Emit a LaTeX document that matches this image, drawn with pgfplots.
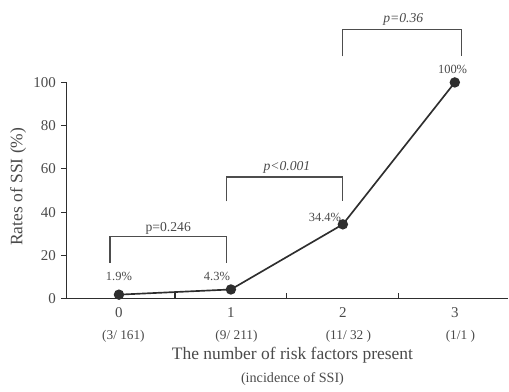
\documentclass[border=0pt]{standalone}
\usepackage{pgfplots}
\pgfplotsset{compat=1.18}
\usepackage{fontspec}
\setmainfont{Liberation Serif}
\definecolor{txt}{HTML}{4A4A4A}
\definecolor{ln}{HTML}{2E2E2E}
\begin{document}
\begin{tikzpicture}
\begin{axis}[
  scale only axis,
  width=265.4pt, height=130pt,
  xmin=-0.467, xmax=3.478,
  ymin=0, ymax=100,
  clip=false,
  axis x line*=bottom, axis y line*=left,
  axis line style={color=ln, line width=0.8pt},
  tick align=inside,
  major tick length=3.5pt,
  xtick={0.5,1.5,2.5},
  xticklabels={},
  xtick style={draw=ln, line width=0.7pt},
  extra x ticks={0,1,2,3},
  extra x tick labels={0,1,2,3},
  extra x tick style={major tick length=0pt, xticklabel style={yshift=-2pt}},
  ytick={0,20,40,60,80,100},
  ytick style={draw=ln, line width=0.6pt, xshift=-3.5pt},
  tick label style={font=\fontsize{9}{10}\selectfont, color=txt},
  yticklabel style={xshift=-3pt},
  /pgf/number format/assume math mode=true,
]
% invisible bounding box matching the reference frame
\path (axis cs:-1.0625,-41.4) rectangle (axis cs:3.482,138.1);
% brackets
\addplot[color=ln!85, line width=0.7pt, no marks] coordinates {(-0.08,16.6) (-0.08,28.6) (0.96,28.6) (0.96,16.6)};
\addplot[color=ln!85, line width=0.7pt, no marks] coordinates {(0.96,45) (0.96,56.3) (1.995,56.3) (1.995,45)};
\addplot[color=ln!85, line width=0.7pt, no marks] coordinates {(2.0,112) (2.0,124.6) (3.06,124.6) (3.06,112)};
% data
\addplot[color=ln, line width=1pt, mark=*, mark size=2.6pt, mark options={fill=ln}] coordinates {(0,1.9) (1,4.3) (2,34.4) (3,100)};
% labels
\node[color=txt, font=\fontsize{7.5}{8}\selectfont] at (axis cs:0,10.3) {1.9\%};
\node[color=txt, font=\fontsize{7.5}{8}\selectfont] at (axis cs:0.875,10.3) {4.3\%};
\node[color=txt, font=\fontsize{7.5}{8}\selectfont] at (axis cs:1.84,37.5) {34.4\%};
\node[color=txt, font=\fontsize{7.5}{8}\selectfont] at (axis cs:2.98,105.8) {100\%};
\node[color=txt, font=\fontsize{8.2}{9}\selectfont] at (axis cs:0.44,32.4) {p=0.246};
\node[color=txt, font=\fontsize{8.2}{9}\selectfont\itshape] at (axis cs:1.5,60.7) {p<0.001};
\node[color=txt, font=\fontsize{8.2}{9}\selectfont\itshape] at (axis cs:2.54,128.9) {p=0.36};
% fractions under ticks
\node[color=txt, font=\fontsize{8}{9}\selectfont] at (axis cs:0.04,-17.4) {(3/ 161)};
\node[color=txt, font=\fontsize{8}{9}\selectfont] at (axis cs:1.05,-17.4) {(9/ 211)};
\node[color=txt, font=\fontsize{8}{9}\selectfont] at (axis cs:2.05,-17.4) {(11/ 32 )};
\node[color=txt, font=\fontsize{8}{9}\selectfont] at (axis cs:3.05,-17.4) {(1/1 )};
% axis titles
\node[color=txt, font=\fontsize{10.5}{12}\selectfont] at (axis cs:1.55,-25.9) {The number of risk factors present};
\node[color=txt, font=\fontsize{8.5}{10}\selectfont] at (axis cs:1.55,-37.2) {(incidence of SSI)};
\node[color=txt, rotate=90, font=\fontsize{10.5}{12}\selectfont] at (axis cs:-0.902,51.8) {Rates of SSI (\%)};
\end{axis}
\end{tikzpicture}
\end{document}
